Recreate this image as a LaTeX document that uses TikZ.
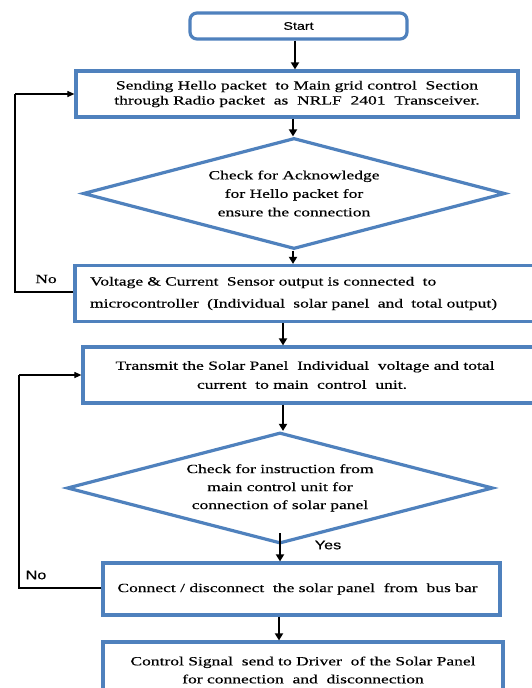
\documentclass[tikz,border=0pt]{standalone}
\usepackage{fontspec}
\setmainfont[FakeStretch=1.4,FakeBold=0.4]{Liberation Serif}
\setsansfont[FakeStretch=1.3,FakeBold=0.4]{Liberation Sans}
\usetikzlibrary{shapes.geometric,arrows.meta}
\definecolor{bblue}{HTML}{4F81BD}
\begin{document}
\begin{tikzpicture}[x=1pt,y=-1pt,
  box/.style={draw=bblue, line width=3.2pt, fill=white, inner sep=0pt, align=center},
  dia/.style={draw=bblue, line width=3.2pt, fill=white, shape=diamond, inner sep=0pt, align=center},
  arr/.style={-{Triangle[length=7pt,width=8pt]}, line width=2.4pt},
  fbl/.style={line width=1.1pt},
  fba/.style={line width=1.1pt, -{Triangle[length=7pt,width=6pt]}},
  lbl/.style={inner sep=0pt, font=\fontsize{12.5}{14}\selectfont}
]
\useasboundingbox (0,0) rectangle (531,688);
\fill[white] (0,0) rectangle (531,688);

\node[box, rounded corners=7pt, minimum width=217pt, minimum height=26pt,
      font=\sffamily\fontsize{11}{12}\selectfont] (start) at (298.5,26) {Start};

\node[box, minimum width=442pt, minimum height=46pt,
      font=\fontsize{12.5}{15}\selectfont] (box1) at (297,94)
  {Sending Hello packet \ to Main grid control \ Section\\through Radio packet \ as \ NRLF \ 2401 \ Transceiver.};

\node[dia, aspect=3.8, minimum width=422pt, minimum height=111pt,
      font=\fontsize{12.5}{18.5}\selectfont] (d1) at (294,193.5)
  {Check for Acknowledge\\for Hello packet for\\ensure the connection};

\node[box, minimum width=465pt, minimum height=56pt, align=left, text width=435pt,
      font=\fontsize{12.5}{22}\selectfont] (box2) at (307.5,293.5)
  {Voltage \& Current \ Sensor output is connected \ to\\microcontroller \ (Individual \ solar panel \ and \ total output)};

\node[box, minimum width=460pt, minimum height=56pt,
      font=\fontsize{12.5}{19}\selectfont] (box3) at (313,375)
  {\hspace*{-16pt}Transmit the Solar Panel \ Individual \ voltage and total\\\hspace*{-22pt}current \ to main \ control \ unit.};

\node[dia, aspect=3.8, minimum width=426pt, minimum height=111pt,
      font=\fontsize{12.5}{18}\selectfont] (d2) at (280,488)
  {Check for instruction from\\main control unit for\\connection of solar panel};

\node[box, minimum width=397pt, minimum height=52pt,
      font=\fontsize{12.5}{15}\selectfont] (box4) at (301.5,589)
  {\hspace*{-8pt}Connect / disconnect \ the solar panel \ from \ bus bar};

\node[box, minimum width=400pt, minimum height=56pt,
      font=\fontsize{12.5}{18}\selectfont] (box5) at (303,670)
  {Control Signal \ send to Driver \ of the Solar Panel\\for connection \ and \ disconnection};

% main arrows
\draw[arr] (295,0 |- start.south) -- (295,0 |- box1.north);
\draw[arr] (293,0 |- box1.south) -- (293,0 |- d1.north);
\draw[arr] (293,0 |- d1.south) -- (293,0 |- box2.north);
\draw[arr] (283,0 |- box2.south) -- (283,0 |- box3.north);
\draw[arr] (283,0 |- box3.south) -- (283,0 |- d2.north);
\draw[arr] (280,533) -- (280,0 |- box4.north);
\draw[arr] (279,0 |- box4.south) -- (279,0 |- box5.north);

% feedback loops
\coordinate (fb1) at (15,292);
\draw[fbl] (box2.west |- fb1) -- (fb1) -- (fb1 |- box1.west);
\draw[fba] (fb1 |- box1.west) -- (box1.west);
\coordinate (fb2) at (19,588);
\draw[fbl] (box4.west |- fb2) -- (fb2) -- (fb2 |- box3.west);
\draw[fba] (fb2 |- box3.west) -- (box3.west);

% labels
\node[lbl] (no1) at (46,279) {No};
\node[lbl, font=\sffamily\fontsize{12.5}{14}\selectfont] (no2) at (36,575) {No};
\node[lbl, font=\sffamily\fontsize{12.5}{14}\selectfont] (yes) at (328,545) {Yes};
\end{tikzpicture}
\end{document}
